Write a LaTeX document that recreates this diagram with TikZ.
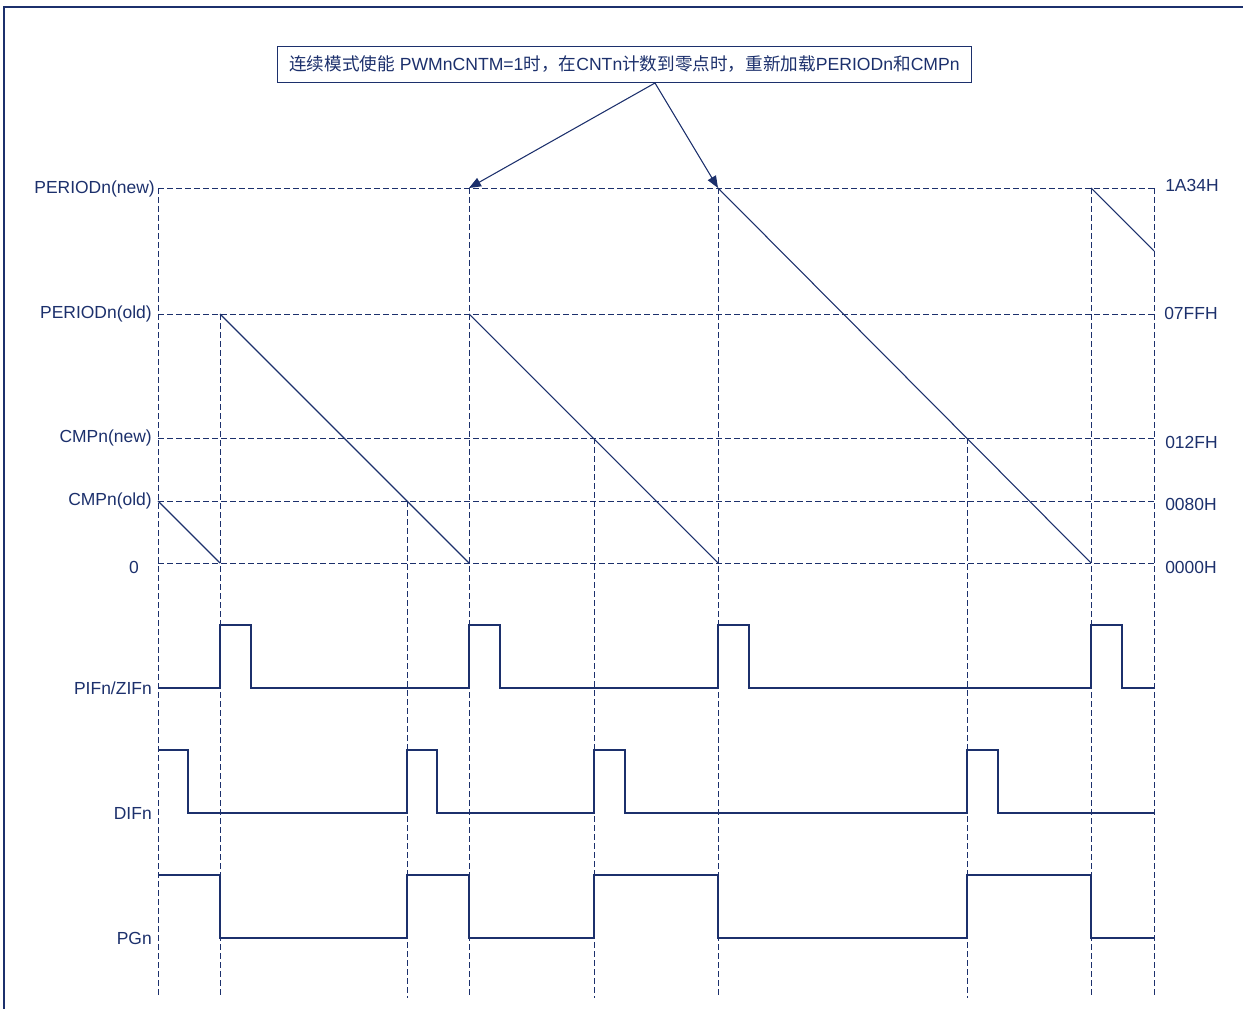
\documentclass[tikz,border=0pt]{standalone}
\usepackage{fontspec}
\setmainfont{Liberation Sans}
\newfontfamily\cjk{Noto Sans CJK SC}
\usetikzlibrary{arrows.meta}
\definecolor{navy}{RGB}{28,48,108}
\tikzset{
  guide/.style={draw=navy, dashed, dash pattern=on 4.5pt off 2.25pt, line width=0.7pt},
  wave/.style={draw=navy, line width=0.8pt},
  lbl/.style={text=navy, font=\fontsize{13.1}{15}\selectfont, inner sep=0pt},
  lbll/.style={lbl, anchor=east},
  lblr/.style={lbl, anchor=west},
  note/.style={draw=navy, line width=0.8pt, text=navy, font=\fontsize{13.2}{15}\selectfont, inner xsep=9pt, inner ysep=7pt},
  callout/.style={draw=navy, line width=0.8pt, -{Triangle[length=9pt,width=7pt]}}
}
\begin{document}
\begin{tikzpicture}[x=0.75pt,y=-0.75pt]
\useasboundingbox (0,0) rectangle (1243,1009);
% outer frame (cropped)
\draw[navy, line width=1pt] (4,1009) -- (4,7) -- (1243,7);

% horizontal guides
\foreach \y in {188,314,438,501,563}{
  \draw[guide] (158,\y) -- (1154,\y);
}
% vertical guides
\draw[guide] (158,188) -- (158,998);
\draw[guide] (220,314) -- (220,998);
\draw[guide] (407,501) -- (407,998);
\draw[guide] (469,188) -- (469,998);
\draw[guide] (594,438) -- (594,998);
\draw[guide] (718,188) -- (718,998);
\draw[guide] (967,438) -- (967,998);
\draw[guide] (1091,188) -- (1091,998);
\draw[guide] (1154,188) -- (1154,998);

% counter sawtooth
\draw[wave] (158,501) -- (220,563);
\draw[wave] (220,314) -- (469,563);
\draw[wave] (469,314) -- (718,563);
\draw[wave] (718,188) -- (1091,563);
\draw[wave] (1091,188) -- (1154,251);

% PIFn/ZIFn
\draw[wave] (158,688) -- (220,688) -- (220,625) -- (251,625) -- (251,688)
  -- (469,688) -- (469,625) -- (500,625) -- (500,688)
  -- (718,688) -- (718,625) -- (749,625) -- (749,688)
  -- (1091,688) -- (1091,625) -- (1122,625) -- (1122,688) -- (1154,688);
% DIFn
\draw[wave] (158,750) -- (188,750) -- (188,813)
  -- (407,813) -- (407,750) -- (437,750) -- (437,813)
  -- (594,813) -- (594,750) -- (625,750) -- (625,813)
  -- (967,813) -- (967,750) -- (998,750) -- (998,813) -- (1154,813);
% PGn
\draw[wave] (158,875) -- (220,875) -- (220,938)
  -- (407,938) -- (407,875) -- (469,875) -- (469,938)
  -- (594,938) -- (594,875) -- (718,875) -- (718,938)
  -- (967,938) -- (967,875) -- (1091,875) -- (1091,938) -- (1154,938);

% left labels
\node[lbll] (lpn) at (155,189) {PERIODn(new)};
\node[lbll] (lpo) at (152,314) {PERIODn(old)};
\node[lbll] (lcn) at (152,438) {CMPn(new)};
\node[lbll] (lco) at (152,501) {CMPn(old)};
\node[lbll] (lz)  at (139,567) {0};
\node[lbll] (lpi) at (152,688) {PIFn/ZIFn};
\node[lbll] (ldi) at (152,813) {DIFn};
\node[lbll] (lpg) at (152,938) {PGn};

% right labels
\node[lblr] (r1) at (1165,185) {1A34H};
\node[lblr] (r2) at (1164,313) {07FFH};
\node[lblr] (r3) at (1165,442) {012FH};
\node[lblr] (r4) at (1165,504) {0080H};
\node[lblr] (r5) at (1165,567) {0000H};

% note
\node[note, minimum width=519pt] (note) at (624.5,64.5) {{\cjk 连续模式使能} PWMnCNTM=1{\cjk 时，在}CNTn{\cjk 计数到零点时，重新加载}PERIODn{\cjk 和}CMPn};
\coordinate (tipa) at (469,188);
\coordinate (tipb) at (718,188);
\coordinate (src) at (655,83);
\draw[callout] (src) -- (tipa);
\draw[callout] (src) -- (tipb);
\end{tikzpicture}
\end{document}
